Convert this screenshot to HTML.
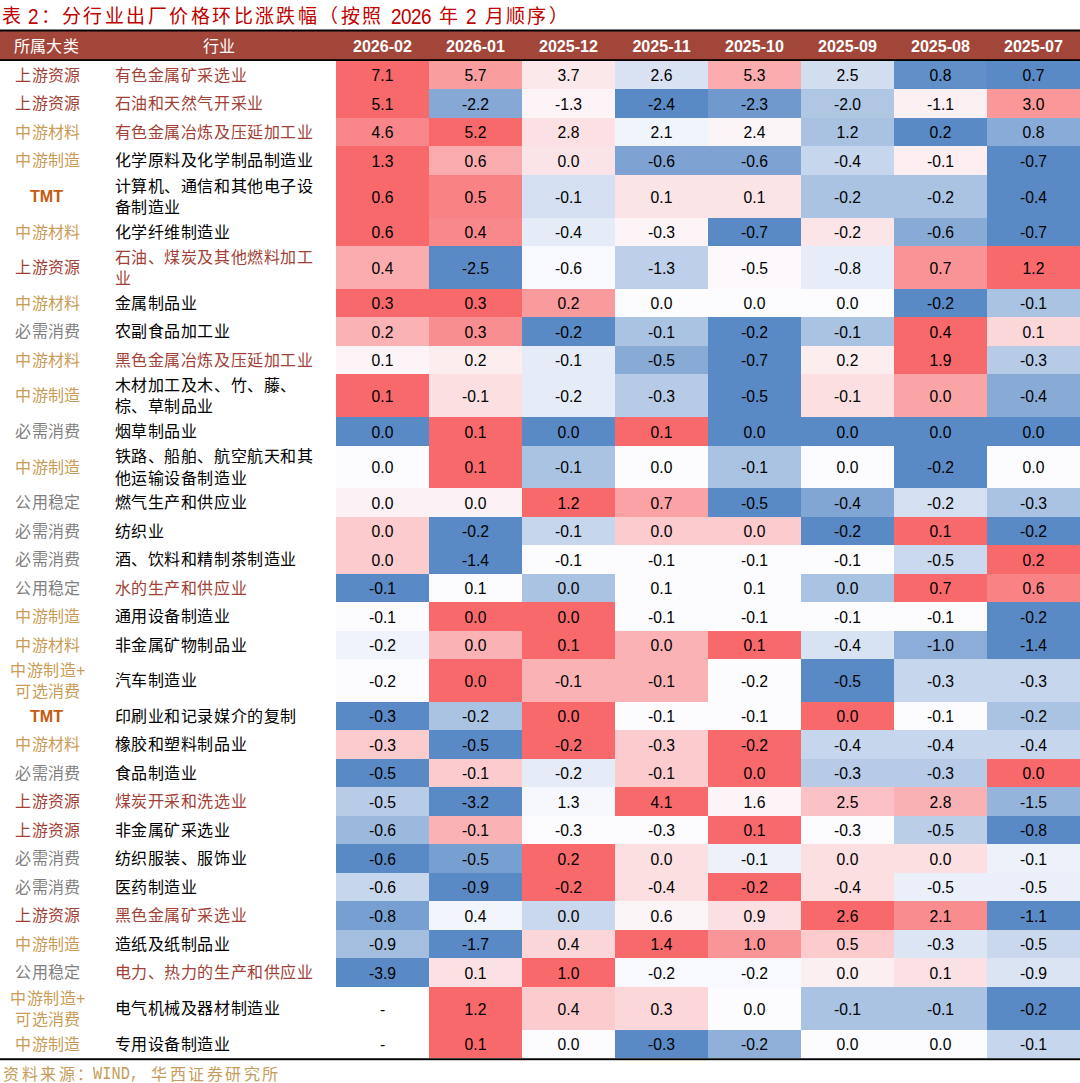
<!DOCTYPE html>
<html lang="zh-CN"><head><meta charset="utf-8"><title>表2</title><style>
*{margin:0;padding:0;box-sizing:border-box}
html,body{width:1080px;height:1083px;background:#fff;overflow:hidden}
body{font-family:"Liberation Sans",sans-serif;color:#000}
#w{position:relative;width:1080px;height:1083px;overflow:hidden;background:#fff}
.a{position:absolute}
.t{top:4px;font-size:19px;line-height:26px;letter-spacing:2.45px;color:#c00000;white-space:nowrap}
.td{top:4px;font-size:22.5px;line-height:26px;letter-spacing:-.6px;color:#c00000;white-space:nowrap;transform:scaleX(.84);transform-origin:0 50%}
.l1{left:0;width:1080px;top:29px;height:3px;background:linear-gradient(rgba(0,0,0,.5) 0,rgba(0,0,0,.5) 1px,#000 1px,#000 2px,rgba(0,0,0,.5) 2px,rgba(0,0,0,.5) 3px)}
.l2{left:0;width:1080px;top:59px;height:2px;background:linear-gradient(rgba(0,0,0,.8) 0,rgba(0,0,0,.8) 1px,#000 1px,#000 2px)}
.l3{left:0;width:1080px;top:1058px;height:3px;background:linear-gradient(rgba(0,0,0,.75) 0,rgba(0,0,0,.75) 1px,#000 1px,#000 2px,rgba(0,0,0,.2) 2px,rgba(0,0,0,.2) 3px)}
.hd{left:0;top:31px;width:1080px;height:29px;background:#a3463a}
.h{top:33px;height:26px;line-height:26px;color:#fff;text-align:center;font-size:16.1px;font-weight:bold;white-space:nowrap}
.hc{top:34px;font-weight:normal;font-size:16px;letter-spacing:.45px}
.r{left:0;width:1080px}
.c{position:absolute;top:0;height:100%;width:93px;padding-top:2px;display:flex;align-items:center;justify-content:center;font-size:15.7px;white-space:nowrap}
.k{font-weight:300;position:absolute;top:0;height:100%;left:1.5px;width:93px;padding-top:1px;display:flex;align-items:center;justify-content:center;text-align:center;font-size:16px;letter-spacing:.45px;line-height:21.5px;white-space:nowrap}
.n{font-weight:300;position:absolute;top:0;height:100%;left:114.5px;width:222px;padding-top:1px;display:flex;align-items:center;font-size:16px;letter-spacing:.58px;line-height:21.5px;white-space:nowrap}
.tmt{left:0;font-weight:bold;font-size:16.1px;letter-spacing:0}
.src{font-weight:300;top:1067px;font-size:16px;letter-spacing:2.5px;line-height:16px;color:#c69c5a;white-space:nowrap}
.sm{top:1067px;font-family:"Liberation Mono",monospace;font-size:18.5px;line-height:16px;color:#c69c5a;white-space:pre;transform:scaleX(.83);transform-origin:0 50%}
</style></head><body><div id="w">
<div class="a t" style="left:2px">表</div>
<div class="a td" style="left:28px">2</div>
<div class="a t" style="left:40.5px">：分行业出厂价格环比涨跌幅（按照</div>
<div class="a td" style="left:390.5px">2026</div>
<div class="a t" style="left:438.5px">年</div>
<div class="a td" style="left:466px">2</div>
<div class="a t" style="left:484.5px">月顺序）</div>
<div class="a hd"></div>
<div class="a l1"></div>
<div class="a h hc" style="left:0;width:93px">所属大类</div>
<div class="a h hc" style="left:103px;width:233px">行业</div>
<div class="a h" style="left:336px;width:93px">2026-02</div>
<div class="a h" style="left:429px;width:93px">2026-01</div>
<div class="a h" style="left:522px;width:93px">2025-12</div>
<div class="a h" style="left:615px;width:93px">2025-11</div>
<div class="a h" style="left:708px;width:93px">2025-10</div>
<div class="a h" style="left:801px;width:93px">2025-09</div>
<div class="a h" style="left:894px;width:93px">2025-08</div>
<div class="a h" style="left:987px;width:93px">2025-07</div>
<div class="a l2"></div>
<div class="a r" style="top:61px;height:28px"><div class="k" style="color:#a23f36">上游资源</div><div class="n" style="color:#a23f36">有色金属矿采选业</div><div class="c" style="left:336px;background:#f8696b">7.1</div><div class="c" style="left:429px;background:#f99d9f">5.7</div><div class="c" style="left:522px;background:#fbe8ea">3.7</div><div class="c" style="left:615px;background:#d8e2f2">2.6</div><div class="c" style="left:708px;background:#faacae">5.3</div><div class="c" style="left:801px;background:#d1def0">2.5</div><div class="c" style="left:894px;background:#618fc8">0.8</div><div class="c" style="left:987px;background:#5a8ac6">0.7</div></div>
<div class="a r" style="top:89px;height:29px"><div class="k" style="color:#a23f36">上游资源</div><div class="n" style="color:#a23f36">石油和天然气开采业</div><div class="c" style="left:336px;background:#f8696b">5.1</div><div class="c" style="left:429px;background:#85a8d5">-2.2</div><div class="c" style="left:522px;background:#fcf4f7">-1.3</div><div class="c" style="left:615px;background:#5a8ac6">-2.4</div><div class="c" style="left:708px;background:#7099ce">-2.3</div><div class="c" style="left:801px;background:#b0c7e4">-2.0</div><div class="c" style="left:894px;background:#fcf0f3">-1.1</div><div class="c" style="left:987px;background:#f99799">3.0</div></div>
<div class="a r" style="top:118px;height:28px"><div class="k" style="color:#c99b54">中游材料</div><div class="n" style="color:#a23f36">有色金属冶炼及压延加工业</div><div class="c" style="left:336px;background:#f98789">4.6</div><div class="c" style="left:429px;background:#f8696b">5.2</div><div class="c" style="left:522px;background:#fbe1e3">2.8</div><div class="c" style="left:615px;background:#f0f4fb">2.1</div><div class="c" style="left:708px;background:#fcf5f7">2.4</div><div class="c" style="left:801px;background:#a9c2e2">1.2</div><div class="c" style="left:894px;background:#5a8ac6">0.2</div><div class="c" style="left:987px;background:#89abd7">0.8</div></div>
<div class="a r" style="top:146px;height:29px"><div class="k" style="color:#c99b54">中游制造</div><div class="n" style="color:#000000">化学原料及化学制品制造业</div><div class="c" style="left:336px;background:#f8696b">1.3</div><div class="c" style="left:429px;background:#faabae">0.6</div><div class="c" style="left:522px;background:#fbe4e7">0.0</div><div class="c" style="left:615px;background:#7ea3d3">-0.6</div><div class="c" style="left:708px;background:#7ea3d3">-0.6</div><div class="c" style="left:801px;background:#c6d6ec">-0.4</div><div class="c" style="left:894px;background:#fceef1">-0.1</div><div class="c" style="left:987px;background:#5a8ac6">-0.7</div></div>
<div class="a r" style="top:175px;height:43px"><div class="k tmt" style="color:#c55a11">TMT</div><div class="n" style="color:#000000">计算机、通信和其他电子设<br>备制造业</div><div class="c" style="left:336px;background:#f8696b">0.6</div><div class="c" style="left:429px;background:#f98284">0.5</div><div class="c" style="left:522px;background:#d4e0f1">-0.1</div><div class="c" style="left:615px;background:#fbe4e6">0.1</div><div class="c" style="left:708px;background:#fbe4e6">0.1</div><div class="c" style="left:801px;background:#abc3e2">-0.2</div><div class="c" style="left:894px;background:#abc3e2">-0.2</div><div class="c" style="left:987px;background:#5a8ac6">-0.4</div></div>
<div class="a r" style="top:218px;height:28px"><div class="k" style="color:#c99b54">中游材料</div><div class="n" style="color:#000000">化学纤维制造业</div><div class="c" style="left:336px;background:#f8696b">0.6</div><div class="c" style="left:429px;background:#f9888a">0.4</div><div class="c" style="left:522px;background:#e5ecf7">-0.4</div><div class="c" style="left:615px;background:#fcf4f7">-0.3</div><div class="c" style="left:708px;background:#5a8ac6">-0.7</div><div class="c" style="left:801px;background:#fbe5e8">-0.2</div><div class="c" style="left:894px;background:#88abd6">-0.6</div><div class="c" style="left:987px;background:#5a8ac6">-0.7</div></div>
<div class="a r" style="top:246px;height:43px"><div class="k" style="color:#a23f36">上游资源</div><div class="n" style="color:#a23f36">石油、煤炭及其他燃料加工<br>业</div><div class="c" style="left:336px;background:#faacaf">0.4</div><div class="c" style="left:429px;background:#5a8ac6">-2.5</div><div class="c" style="left:522px;background:#f8f9fe">-0.6</div><div class="c" style="left:615px;background:#bed0e9">-1.3</div><div class="c" style="left:708px;background:#fcf8fb">-0.5</div><div class="c" style="left:801px;background:#e7edf8">-0.8</div><div class="c" style="left:894px;background:#f99395">0.7</div><div class="c" style="left:987px;background:#f8696b">1.2</div></div>
<div class="a r" style="top:289px;height:28px"><div class="k" style="color:#c99b54">中游材料</div><div class="n" style="color:#000000">金属制品业</div><div class="c" style="left:336px;background:#f8696b">0.3</div><div class="c" style="left:429px;background:#f8696b">0.3</div><div class="c" style="left:522px;background:#f99a9c">0.2</div><div class="c" style="left:615px;background:#fcfcff">0.0</div><div class="c" style="left:708px;background:#fcfcff">0.0</div><div class="c" style="left:801px;background:#fcfcff">0.0</div><div class="c" style="left:894px;background:#5a8ac6">-0.2</div><div class="c" style="left:987px;background:#abc3e2">-0.1</div></div>
<div class="a r" style="top:317px;height:29px"><div class="k" style="color:#7f7f7f">必需消费</div><div class="n" style="color:#000000">农副食品加工业</div><div class="c" style="left:336px;background:#fab2b5">0.2</div><div class="c" style="left:429px;background:#f98e90">0.3</div><div class="c" style="left:522px;background:#5a8ac6">-0.2</div><div class="c" style="left:615px;background:#abc3e2">-0.1</div><div class="c" style="left:708px;background:#5a8ac6">-0.2</div><div class="c" style="left:801px;background:#abc3e2">-0.1</div><div class="c" style="left:894px;background:#f8696b">0.4</div><div class="c" style="left:987px;background:#fbd7da">0.1</div></div>
<div class="a r" style="top:346px;height:28px"><div class="k" style="color:#c99b54">中游材料</div><div class="n" style="color:#a23f36">黑色金属冶炼及压延加工业</div><div class="c" style="left:336px;background:#fcf4f7">0.1</div><div class="c" style="left:429px;background:#fcedef">0.2</div><div class="c" style="left:522px;background:#e5ecf7">-0.1</div><div class="c" style="left:615px;background:#88abd6">-0.5</div><div class="c" style="left:708px;background:#5a8ac6">-0.7</div><div class="c" style="left:801px;background:#fcedef">0.2</div><div class="c" style="left:894px;background:#f8696b">1.9</div><div class="c" style="left:987px;background:#b7cbe7">-0.3</div></div>
<div class="a r" style="top:374px;height:43px"><div class="k" style="color:#c99b54">中游制造</div><div class="n" style="color:#000000">木材加工及木、竹、藤、<br>棕、草制品业</div><div class="c" style="left:336px;background:#f8696b">0.1</div><div class="c" style="left:429px;background:#fbdfe1">-0.1</div><div class="c" style="left:522px;background:#e5ecf7">-0.2</div><div class="c" style="left:615px;background:#b7cbe7">-0.3</div><div class="c" style="left:708px;background:#5a8ac6">-0.5</div><div class="c" style="left:801px;background:#fbdfe1">-0.1</div><div class="c" style="left:894px;background:#faa4a6">0.0</div><div class="c" style="left:987px;background:#88abd6">-0.4</div></div>
<div class="a r" style="top:417px;height:29px"><div class="k" style="color:#7f7f7f">必需消费</div><div class="n" style="color:#000000">烟草制品业</div><div class="c" style="left:336px;background:#5a8ac6">0.0</div><div class="c" style="left:429px;background:#f8696b">0.1</div><div class="c" style="left:522px;background:#5a8ac6">0.0</div><div class="c" style="left:615px;background:#f8696b">0.1</div><div class="c" style="left:708px;background:#5a8ac6">0.0</div><div class="c" style="left:801px;background:#5a8ac6">0.0</div><div class="c" style="left:894px;background:#5a8ac6">0.0</div><div class="c" style="left:987px;background:#5a8ac6">0.0</div></div>
<div class="a r" style="top:446px;height:42px"><div class="k" style="color:#c99b54">中游制造</div><div class="n" style="color:#000000">铁路、船舶、航空航天和其<br>他运输设备制造业</div><div class="c" style="left:336px;background:#fcfcff">0.0</div><div class="c" style="left:429px;background:#f8696b">0.1</div><div class="c" style="left:522px;background:#abc3e2">-0.1</div><div class="c" style="left:615px;background:#fcfcff">0.0</div><div class="c" style="left:708px;background:#abc3e2">-0.1</div><div class="c" style="left:801px;background:#fcfcff">0.0</div><div class="c" style="left:894px;background:#5a8ac6">-0.2</div><div class="c" style="left:987px;background:#fcfcff">0.0</div></div>
<div class="a r" style="top:488px;height:29px"><div class="k" style="color:#7f7f7f">公用稳定</div><div class="n" style="color:#000000">燃气生产和供应业</div><div class="c" style="left:336px;background:#fcf1f4">0.0</div><div class="c" style="left:429px;background:#fcf1f4">0.0</div><div class="c" style="left:522px;background:#f8696b">1.2</div><div class="c" style="left:615px;background:#faa2a4">0.7</div><div class="c" style="left:708px;background:#5a8ac6">-0.5</div><div class="c" style="left:801px;background:#82a6d4">-0.4</div><div class="c" style="left:894px;background:#d4e0f1">-0.2</div><div class="c" style="left:987px;background:#abc3e2">-0.3</div></div>
<div class="a r" style="top:517px;height:28px"><div class="k" style="color:#7f7f7f">必需消费</div><div class="n" style="color:#000000">纺织业</div><div class="c" style="left:336px;background:#fbcbce">0.0</div><div class="c" style="left:429px;background:#5a8ac6">-0.2</div><div class="c" style="left:522px;background:#c6d6ec">-0.1</div><div class="c" style="left:615px;background:#fbcbce">0.0</div><div class="c" style="left:708px;background:#fbcbce">0.0</div><div class="c" style="left:801px;background:#5a8ac6">-0.2</div><div class="c" style="left:894px;background:#f8696b">0.1</div><div class="c" style="left:987px;background:#5a8ac6">-0.2</div></div>
<div class="a r" style="top:545px;height:29px"><div class="k" style="color:#7f7f7f">必需消费</div><div class="n" style="color:#000000">酒、饮料和精制茶制造业</div><div class="c" style="left:336px;background:#fbcbce">0.0</div><div class="c" style="left:429px;background:#5a8ac6">-1.4</div><div class="c" style="left:522px;background:#fcfcff">-0.1</div><div class="c" style="left:615px;background:#fcfcff">-0.1</div><div class="c" style="left:708px;background:#fcfcff">-0.1</div><div class="c" style="left:801px;background:#fcfcff">-0.1</div><div class="c" style="left:894px;background:#cad9ed">-0.5</div><div class="c" style="left:987px;background:#f8696b">0.2</div></div>
<div class="a r" style="top:574px;height:28px"><div class="k" style="color:#7f7f7f">公用稳定</div><div class="n" style="color:#a23f36">水的生产和供应业</div><div class="c" style="left:336px;background:#5a8ac6">-0.1</div><div class="c" style="left:429px;background:#fcfcff">0.1</div><div class="c" style="left:522px;background:#abc3e2">0.0</div><div class="c" style="left:615px;background:#fcfcff">0.1</div><div class="c" style="left:708px;background:#fcfcff">0.1</div><div class="c" style="left:801px;background:#abc3e2">0.0</div><div class="c" style="left:894px;background:#f8696b">0.7</div><div class="c" style="left:987px;background:#f98284">0.6</div></div>
<div class="a r" style="top:602px;height:29px"><div class="k" style="color:#c99b54">中游制造</div><div class="n" style="color:#000000">通用设备制造业</div><div class="c" style="left:336px;background:#fcfcff">-0.1</div><div class="c" style="left:429px;background:#f8696b">0.0</div><div class="c" style="left:522px;background:#f8696b">0.0</div><div class="c" style="left:615px;background:#fcfcff">-0.1</div><div class="c" style="left:708px;background:#fcfcff">-0.1</div><div class="c" style="left:801px;background:#fcfcff">-0.1</div><div class="c" style="left:894px;background:#fcfcff">-0.1</div><div class="c" style="left:987px;background:#5a8ac6">-0.2</div></div>
<div class="a r" style="top:631px;height:28px"><div class="k" style="color:#c99b54">中游材料</div><div class="n" style="color:#000000">非金属矿物制品业</div><div class="c" style="left:336px;background:#f0f3fb">-0.2</div><div class="c" style="left:429px;background:#fab2b5">0.0</div><div class="c" style="left:522px;background:#f8696b">0.1</div><div class="c" style="left:615px;background:#fab2b5">0.0</div><div class="c" style="left:708px;background:#f8696b">0.1</div><div class="c" style="left:801px;background:#d7e2f2">-0.4</div><div class="c" style="left:894px;background:#8cadd8">-1.0</div><div class="c" style="left:987px;background:#5a8ac6">-1.4</div></div>
<div class="a r" style="top:659px;height:43px"><div class="k" style="color:#c99b54">中游制造+<br>可选消费</div><div class="n" style="color:#000000">汽车制造业</div><div class="c" style="left:336px;background:#fcfcff">-0.2</div><div class="c" style="left:429px;background:#f8696b">0.0</div><div class="c" style="left:522px;background:#fab2b5">-0.1</div><div class="c" style="left:615px;background:#fab2b5">-0.1</div><div class="c" style="left:708px;background:#fcfcff">-0.2</div><div class="c" style="left:801px;background:#5a8ac6">-0.5</div><div class="c" style="left:894px;background:#c6d6ec">-0.3</div><div class="c" style="left:987px;background:#c6d6ec">-0.3</div></div>
<div class="a r" style="top:702px;height:28px"><div class="k tmt" style="color:#c55a11">TMT</div><div class="n" style="color:#000000">印刷业和记录媒介的复制</div><div class="c" style="left:336px;background:#5a8ac6">-0.3</div><div class="c" style="left:429px;background:#abc3e2">-0.2</div><div class="c" style="left:522px;background:#f8696b">0.0</div><div class="c" style="left:615px;background:#fcfcff">-0.1</div><div class="c" style="left:708px;background:#fcfcff">-0.1</div><div class="c" style="left:801px;background:#f8696b">0.0</div><div class="c" style="left:894px;background:#fcfcff">-0.1</div><div class="c" style="left:987px;background:#abc3e2">-0.2</div></div>
<div class="a r" style="top:730px;height:29px"><div class="k" style="color:#c99b54">中游材料</div><div class="n" style="color:#000000">橡胶和塑料制品业</div><div class="c" style="left:336px;background:#fbcbce">-0.3</div><div class="c" style="left:429px;background:#5a8ac6">-0.5</div><div class="c" style="left:522px;background:#f8696b">-0.2</div><div class="c" style="left:615px;background:#fbcbce">-0.3</div><div class="c" style="left:708px;background:#f8696b">-0.2</div><div class="c" style="left:801px;background:#c6d6ec">-0.4</div><div class="c" style="left:894px;background:#c6d6ec">-0.4</div><div class="c" style="left:987px;background:#c6d6ec">-0.4</div></div>
<div class="a r" style="top:759px;height:28px"><div class="k" style="color:#7f7f7f">必需消费</div><div class="n" style="color:#000000">食品制造业</div><div class="c" style="left:336px;background:#5a8ac6">-0.5</div><div class="c" style="left:429px;background:#fbcbce">-0.1</div><div class="c" style="left:522px;background:#e5ecf7">-0.2</div><div class="c" style="left:615px;background:#fbcbce">-0.1</div><div class="c" style="left:708px;background:#f8696b">0.0</div><div class="c" style="left:801px;background:#b7cbe7">-0.3</div><div class="c" style="left:894px;background:#b7cbe7">-0.3</div><div class="c" style="left:987px;background:#f8696b">0.0</div></div>
<div class="a r" style="top:787px;height:29px"><div class="k" style="color:#a23f36">上游资源</div><div class="n" style="color:#a23f36">煤炭开采和洗选业</div><div class="c" style="left:336px;background:#b8cce7">-0.5</div><div class="c" style="left:429px;background:#5a8ac6">-3.2</div><div class="c" style="left:522px;background:#f7f8fd">1.3</div><div class="c" style="left:615px;background:#f8696b">4.1</div><div class="c" style="left:708px;background:#fcf4f7">1.6</div><div class="c" style="left:801px;background:#fac2c4">2.5</div><div class="c" style="left:894px;background:#fab1b4">2.8</div><div class="c" style="left:987px;background:#95b4db">-1.5</div></div>
<div class="a r" style="top:816px;height:28px"><div class="k" style="color:#a23f36">上游资源</div><div class="n" style="color:#000000">非金属矿采选业</div><div class="c" style="left:336px;background:#9bb8dd">-0.6</div><div class="c" style="left:429px;background:#fab2b5">-0.1</div><div class="c" style="left:522px;background:#fcfcff">-0.3</div><div class="c" style="left:615px;background:#fcfcff">-0.3</div><div class="c" style="left:708px;background:#f8696b">0.1</div><div class="c" style="left:801px;background:#fcfcff">-0.3</div><div class="c" style="left:894px;background:#bbcee8">-0.5</div><div class="c" style="left:987px;background:#5a8ac6">-0.8</div></div>
<div class="a r" style="top:844px;height:29px"><div class="k" style="color:#7f7f7f">必需消费</div><div class="n" style="color:#000000">纺织服装、服饰业</div><div class="c" style="left:336px;background:#5a8ac6">-0.6</div><div class="c" style="left:429px;background:#779fd0">-0.5</div><div class="c" style="left:522px;background:#f8696b">0.2</div><div class="c" style="left:615px;background:#fbdfe1">0.0</div><div class="c" style="left:708px;background:#edf2fa">-0.1</div><div class="c" style="left:801px;background:#fbdfe1">0.0</div><div class="c" style="left:894px;background:#fbdfe1">0.0</div><div class="c" style="left:987px;background:#edf2fa">-0.1</div></div>
<div class="a r" style="top:873px;height:28px"><div class="k" style="color:#7f7f7f">必需消费</div><div class="n" style="color:#000000">医药制造业</div><div class="c" style="left:336px;background:#c6d6ec">-0.6</div><div class="c" style="left:429px;background:#5a8ac6">-0.9</div><div class="c" style="left:522px;background:#f8696b">-0.2</div><div class="c" style="left:615px;background:#fbdfe1">-0.4</div><div class="c" style="left:708px;background:#f8696b">-0.2</div><div class="c" style="left:801px;background:#fbdfe1">-0.4</div><div class="c" style="left:894px;background:#eaeff9">-0.5</div><div class="c" style="left:987px;background:#eaeff9">-0.5</div></div>
<div class="a r" style="top:901px;height:29px"><div class="k" style="color:#a23f36">上游资源</div><div class="n" style="color:#a23f36">黑色金属矿采选业</div><div class="c" style="left:336px;background:#789fd1">-0.8</div><div class="c" style="left:429px;background:#f2f5fb">0.4</div><div class="c" style="left:522px;background:#c9d8ed">0.0</div><div class="c" style="left:615px;background:#fcf5f8">0.6</div><div class="c" style="left:708px;background:#fbe0e3">0.9</div><div class="c" style="left:801px;background:#f8696b">2.6</div><div class="c" style="left:894px;background:#f98c8e">2.1</div><div class="c" style="left:987px;background:#5a8ac6">-1.1</div></div>
<div class="a r" style="top:930px;height:28px"><div class="k" style="color:#c99b54">中游制造</div><div class="n" style="color:#000000">造纸及纸制品业</div><div class="c" style="left:336px;background:#a4bee0">-0.9</div><div class="c" style="left:429px;background:#5a8ac6">-1.7</div><div class="c" style="left:522px;background:#fbd6d9">0.4</div><div class="c" style="left:615px;background:#f8696b">1.4</div><div class="c" style="left:708px;background:#f99597">1.0</div><div class="c" style="left:801px;background:#fbcbce">0.5</div><div class="c" style="left:894px;background:#dce5f4">-0.3</div><div class="c" style="left:987px;background:#c9d8ed">-0.5</div></div>
<div class="a r" style="top:958px;height:29px"><div class="k" style="color:#7f7f7f">公用稳定</div><div class="n" style="color:#a23f36">电力、热力的生产和供应业</div><div class="c" style="left:336px;background:#5a8ac6">-3.9</div><div class="c" style="left:429px;background:#fbe1e4">0.1</div><div class="c" style="left:522px;background:#f8696b">1.0</div><div class="c" style="left:615px;background:#f8f9fe">-0.2</div><div class="c" style="left:708px;background:#f8f9fe">-0.2</div><div class="c" style="left:801px;background:#fceff2">0.0</div><div class="c" style="left:894px;background:#fbe1e4">0.1</div><div class="c" style="left:987px;background:#dae4f3">-0.9</div></div>
<div class="a r" style="top:987px;height:43px"><div class="k" style="color:#c99b54">中游制造+<br>可选消费</div><div class="n" style="color:#000000">电气机械及器材制造业</div><div class="c" style="left:336px">-</div><div class="c" style="left:429px;background:#f8696b">1.2</div><div class="c" style="left:522px;background:#fbcbce">0.4</div><div class="c" style="left:615px;background:#fbd7da">0.3</div><div class="c" style="left:708px;background:#fcfcff">0.0</div><div class="c" style="left:801px;background:#abc3e2">-0.1</div><div class="c" style="left:894px;background:#abc3e2">-0.1</div><div class="c" style="left:987px;background:#5a8ac6">-0.2</div></div>
<div class="a r" style="top:1030px;height:28px"><div class="k" style="color:#c99b54">中游制造</div><div class="n" style="color:#000000">专用设备制造业</div><div class="c" style="left:336px">-</div><div class="c" style="left:429px;background:#f8696b">0.1</div><div class="c" style="left:522px;background:#fcfcff">0.0</div><div class="c" style="left:615px;background:#5a8ac6">-0.3</div><div class="c" style="left:708px;background:#90b0d9">-0.2</div><div class="c" style="left:801px;background:#fcfcff">0.0</div><div class="c" style="left:894px;background:#fcfcff">0.0</div><div class="c" style="left:987px;background:#c6d6ec">-0.1</div></div>
<div class="a l3"></div>
<div class="a src" style="left:3px">资料来源：</div>
<div class="a sm" style="left:93px">WIND,</div>
<div class="a src" style="left:151px">华西证券研究所</div>
</div></body></html>
